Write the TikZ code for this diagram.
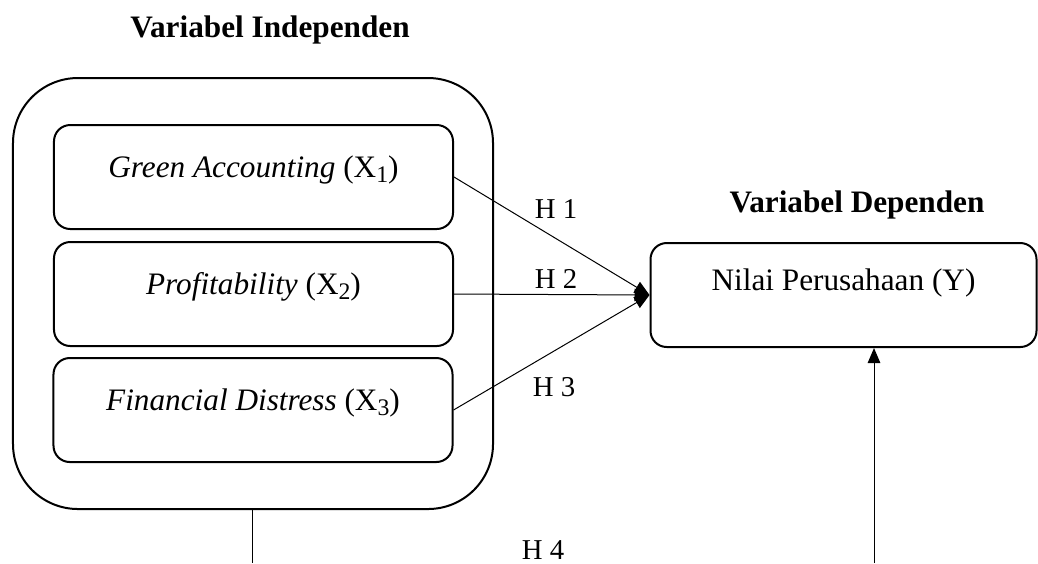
\documentclass[tikz,border=0pt]{standalone}
\usepackage{fontspec}
\setmainfont{Liberation Serif}
\usetikzlibrary{arrows.meta}
\pgfdeclarelayer{bg}
\pgfsetlayers{bg,main}
\newcommand{\xsub}[1]{X\raisebox{-0.35ex}{\fontsize{9.5}{10}\selectfont #1}}
\tikzset{
    every node/.style={inner sep=0mm, font=\fontsize{12.5}{15}\selectfont}
}
\tikzset{
    varbox/.style={rectangle, draw, thick, rounded corners=6.5pt, minimum width=159.6pt, minimum height=41.6pt, text height=9pt, text depth=9pt},
    title/.style={anchor=base, font=\fontsize{12.5}{15}\selectfont\bfseries},
    hyp/.style={anchor=base, font=\fontsize{11.5}{14}\selectfont},
    tip/.style={-{Triangle[length=6pt, width=5pt]}}
}

\begin{document}
\begin{tikzpicture}[x=0.4pt, y=-0.4pt]
        \useasboundingbox (0, 0) rectangle (1038, 563);
        \node (t1) [title] at (270, 37) {Variabel Independen};
        \node (t2) [title] at (857, 212) {Variabel Dependen};
        \node (ind) [rectangle, draw, thick, rounded corners=26pt, minimum width=192pt, minimum height=172.4pt] at (253, 293.5) {};
        \node (x1) [varbox] at (253.5, 177) {\textit{Green Accounting} (\xsub{1})};
        \node (x2) [varbox] at (253.5, 294) {\textit{Profitability} (\xsub{2})};
        \node (x3) [varbox] at (253, 410) {\textit{Financial Distress} (\xsub{3})};
        \node (y) [varbox, minimum width=154.4pt, text depth=13pt] at (843.5, 295) {Nilai Perusahaan (Y)};
        \node (h1) [hyp] at (556, 218) {H 1};
        \node (h2) [hyp] at (556, 288) {H 2};
        \node (h3) [hyp] at (554, 396) {H 3};
        \node (h4) [hyp] at (543, 559) {H 4};
        \coordinate (b1) at (252, 563);
        \coordinate (b2) at (874, 563);
        \begin{pgfonlayer}{bg}
                \draw (x1.east) edge [tip] (y.west);
                \draw (x2.east) edge [tip] (y.west);
                \draw (x3.east) edge [tip] (y.west);
                \draw (ind.south -| b1) -- (b1);
                \draw (b2) edge [tip] (b2 |- y.south);
        \end{pgfonlayer}
\end{tikzpicture}
\end{document}
